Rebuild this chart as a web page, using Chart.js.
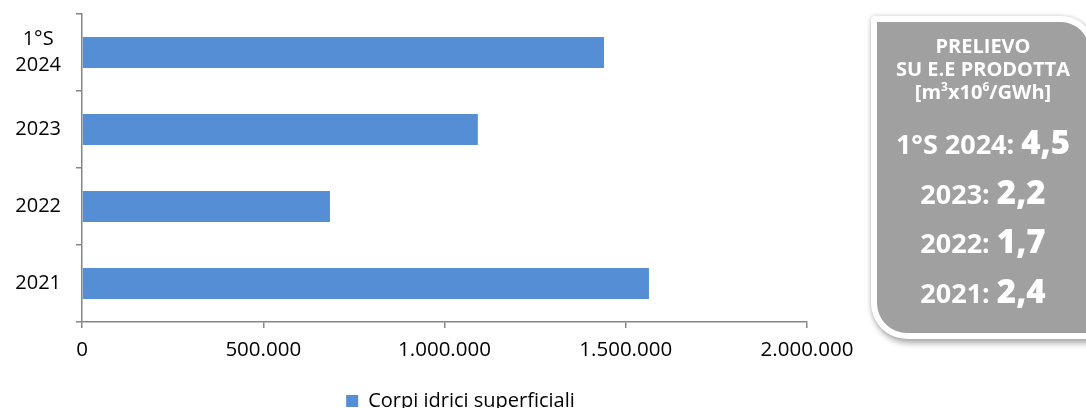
<!DOCTYPE html>
<html>
<head>
<meta charset="utf-8">
<script src="https://cdn.jsdelivr.net/npm/chart.js@4/dist/chart.umd.min.js"></script>
<style>
  html, body { margin: 0; padding: 0; background: #fff; overflow: hidden; }
  #wrap { position: relative; width: 1086px; height: 408px; }
  #chart { position: absolute; left: 0; top: 0; }
  #riquadro {
    position: absolute; left: 871px; top: 16px; width: 212px; height: 311px;
    background: #a0a0a0; border: 6px solid #fff;
    border-radius: 4px 34px 0 36px;
    box-shadow: 2px 4px 6px rgba(0,0,0,0.35), -1px -1px 4px rgba(0,0,0,0.12);
    font-family: "Open Sans", sans-serif; font-weight: bold; color: #fff; text-align: center;
  }
  #riquadro .tit { font-size: 20px; line-height: 23px; height: 23px; white-space: nowrap; }
  #riquadro .tit:first-child { margin-top: 11.5px; }
  #riquadro .vals { margin-top: 16.5px; }
  #riquadro .val { font-size: 27px; line-height: 49.5px; height: 49.5px; white-space: nowrap; }
  #riquadro .val b { font-size: 33px; line-height: 0; }
  #riquadro sup { font-size: 12px; line-height: 0; }
</style>
</head>
<body>
<div id="wrap">
  <canvas id="chart" width="1086" height="408"></canvas>
  <div id="riquadro">
    <div class="tit">PRELIEVO</div>
    <div class="tit">SU E.E PRODOTTA</div>
    <div class="tit">[m<sup>3</sup>x10<sup>6</sup>/GWh]</div>
    <div class="vals">
      <div class="val">1°S 2024: <b>4,5</b></div>
      <div class="val">2023: <b>2,2</b></div>
      <div class="val">2022: <b>1,7</b></div>
      <div class="val">2021: <b>2,4</b></div>
    </div>
  </div>
</div>
<script>
// prelievi annui da corpi idrici superficiali
const categorie = [['1°S', '2024'], '2023', '2022', '2021'];
const prelievi = [1440000, 1092000, 684000, 1564000];
const xMin = 0;
const xMax = 2000000;
const xStep = 500000;
const serieNome = 'Corpi idrici superficiali';

const grigioAsse = '#868686';
const blu = '#558ed5';

function formatoIt(v) {
  return String(v).replace(/\B(?=(\d{3})+(?!\d))/g, '.');
}

new Chart(document.getElementById('chart'), {
  type: 'bar',
  data: {
    labels: categorie,
    datasets: [{
      label: serieNome,
      data: prelievi,
      backgroundColor: blu,
      borderWidth: 0,
      barPercentage: 0.4,
      categoryPercentage: 1
    }]
  },
  options: {
    indexAxis: 'y',
    responsive: false,
    animation: false,
    // la legenda resta centrata su 0..921, l'area del grafico finisce a 807
    layout: { padding: { top: 14, right: 165, left: 0, bottom: -13 } },
    plugins: {
      tooltip: { enabled: false },
      legend: {
        position: 'bottom',
        labels: {
          boxWidth: 12, boxHeight: 12, padding: 4,
          color: '#000',
          font: { family: 'Open Sans', size: 20 }
        }
      }
    },
    scales: {
      x: {
        min: xMin, max: xMax,
        afterBuildTicks: function(scale) {
          const t = [];
          for (let v = xMin; v <= xMax; v += xStep) t.push({ value: v });
          scale.ticks = t;
        },
        afterFit: function(scale) {
          scale.height = 65;
          scale.paddingRight = 279;
        },
        border: { color: grigioAsse, width: 1.5 },
        grid: { drawOnChartArea: false, drawTicks: true, tickLength: 6, color: grigioAsse, lineWidth: 1.5 },
        ticks: {
          color: '#000', padding: 10,
          font: { family: 'Open Sans', size: 20.5 },
          maxRotation: 0,
          callback: function(v) { return formatoIt(v); }
        }
      },
      y: {
        afterFit: function(scale) {
          scale.width = 82;
          scale.paddingTop = 0;
          scale.paddingBottom = 0;
        },
        border: { color: grigioAsse, width: 1.5 },
        grid: { drawOnChartArea: false, drawTicks: true, tickLength: 6, color: grigioAsse, lineWidth: 1.5, offset: true },
        ticks: {
          color: '#000', padding: 15, crossAlign: 'center',
          font: { family: 'Open Sans', size: 20, lineHeight: 1.3 }
        }
      }
    }
  }
});
</script>
</body>
</html>
